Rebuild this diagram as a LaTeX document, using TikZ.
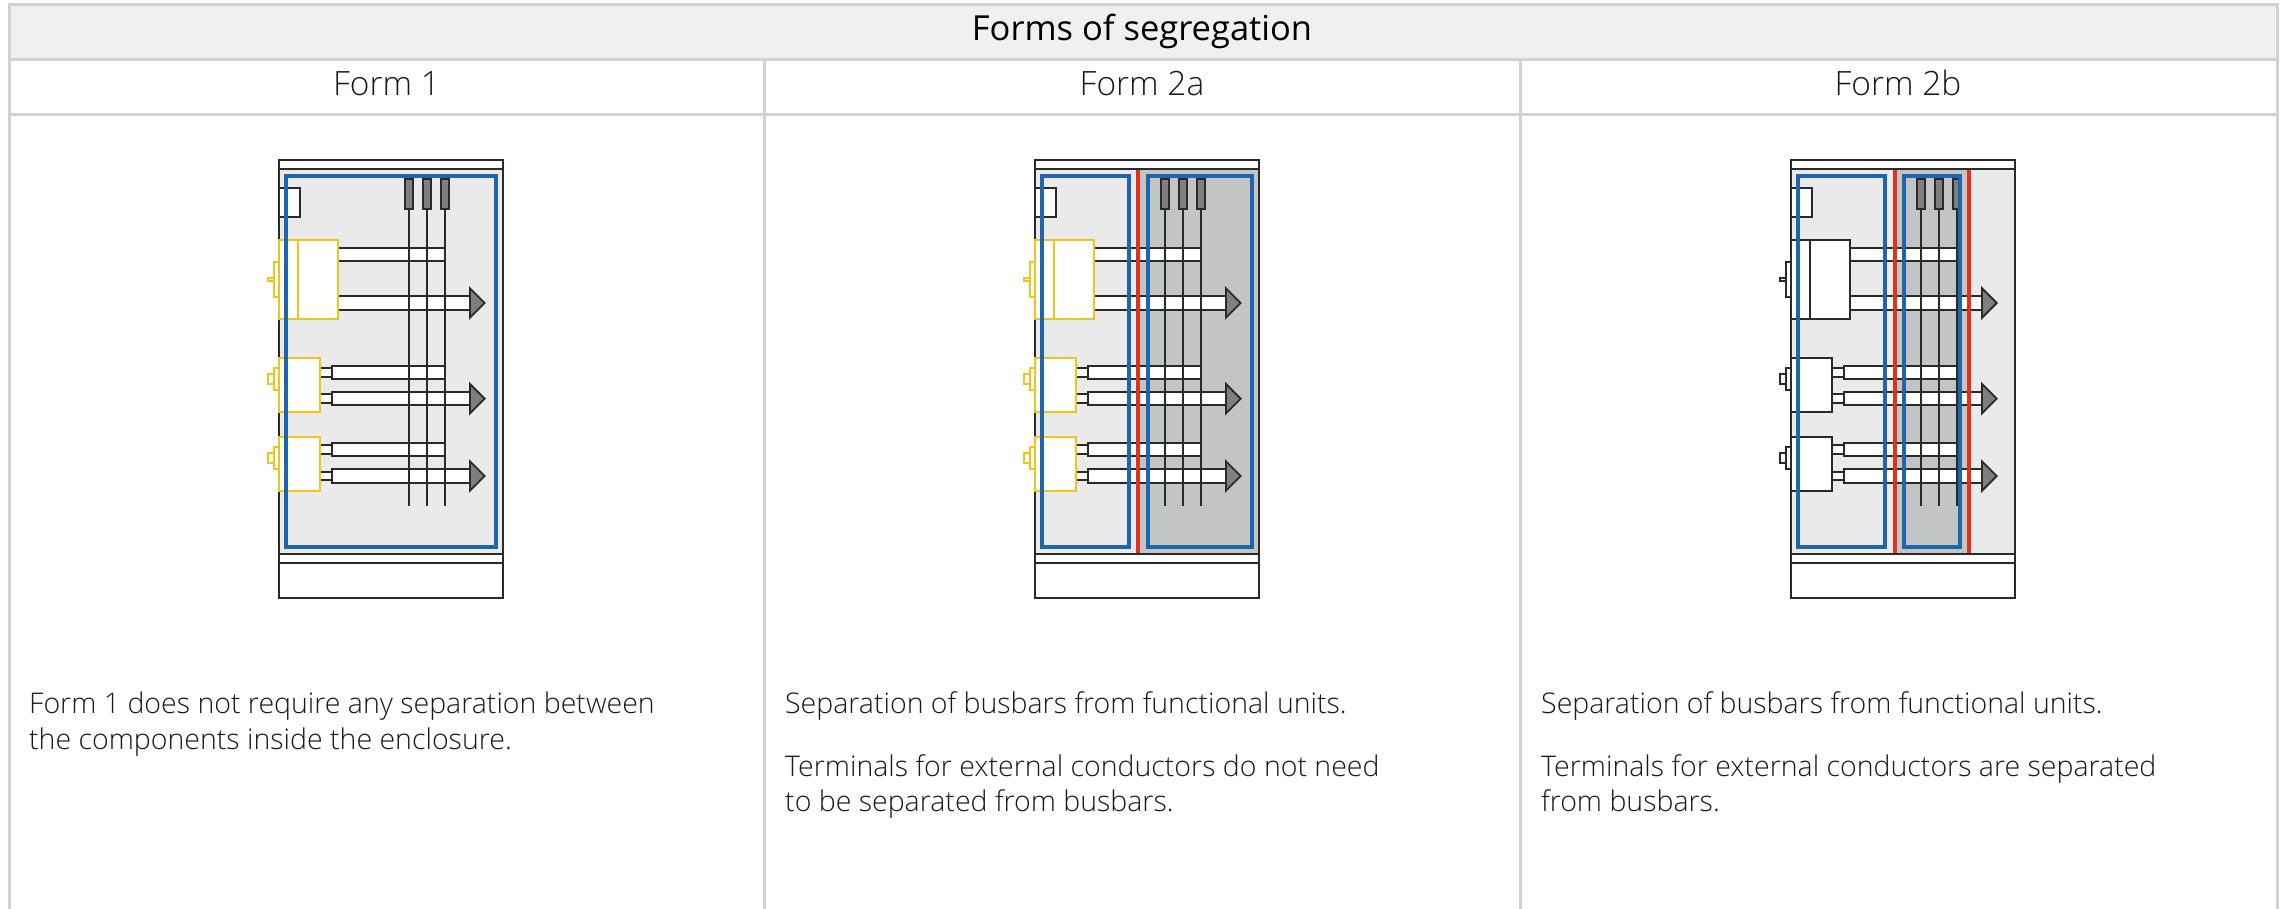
\documentclass[tikz,border=0pt]{standalone}
\usepackage{fontspec}
\setmainfont{Open Sans Light}
\newfontfamily\titlefont{Open Sans}
\definecolor{gridc}{HTML}{D2D2D2}
\definecolor{headc}{HTML}{F0F0F0}
\definecolor{cabc}{HTML}{EAEAEA}
\definecolor{darkc}{HTML}{C3C5C4}
\definecolor{tabc}{HTML}{7F7F7F}
\definecolor{linec}{HTML}{2A2A2A}
\definecolor{bluec}{HTML}{1F64AE}
\definecolor{redc}{HTML}{E03020}
\definecolor{yelc}{HTML}{F0C418}
\definecolor{textc}{HTML}{1A1A1A}
\tikzset{
 grid/.style={draw=gridc,line width=3pt},
 ln/.style={draw=linec,line width=1.8pt},
 wb/.style={ln,fill=white},
 blu/.style={draw=bluec,line width=4pt},
 rd/.style={draw=redc,line width=4pt},
 txt/.style={anchor=base west,inner sep=0,text=textc,font=\fontsize{28.5}{36}\selectfont},
 hd/.style={anchor=base,inner sep=0,text=textc,font=\fontsize{33.5}{40}\selectfont},
 ttl/.style={anchor=base,inner sep=0,text=black,font=\titlefont\fontsize{34.5}{40}\selectfont}
}
% top and bottom strips of the cabinet
\newcommand{\cabinet}[1]{%
\begin{scope}[xshift=#1pt]
 \draw[wb] (279.3,160) rectangle (503.3,169);
 \draw[wb] (279.3,554.3) rectangle (503.3,562.7);
 \draw[wb] (279.3,562.7) rectangle (503.3,597.7);
 \draw[draw=linec,line width=2.4pt] (279.3,169) -- (503.3,169);
 \draw[draw=linec,line width=2.4pt] (279.3,562.7) -- (503.3,562.7);
\end{scope}}
% #1 x offset #2 unit colour: everything under the segregation lines
\newcommand{\content}[2]{%
\begin{scope}[xshift=#1pt]
 \draw[ln] (279.3,169) -- (279.3,554.3);
 \draw[ln] (503.3,169) -- (503.3,554.3);
 \draw[wb] (279.3,188) rectangle (300.3,217.3);
 % bars
 \foreach \ya/\yb/\xs/\xe in {247.7/261/338/445,365.7/379/332.3/445,443/456.3/332.3/445}
   \draw[wb] (\xs,\ya) rectangle (\xe,\yb);
 \foreach \ya/\yb/\xs in {296/309.7/338,391.7/405/332.3,469.3/482.7/332.3}
   \draw[wb] (\xs,\ya) rectangle (470,\yb);
 % stubs
 \foreach \ya/\yb in {367.7/376.7,394/403,445.3/454.3,471.7/480.3}
   \draw[wb] (320.3,\ya) rectangle (332.3,\yb);
 % units
 \begin{scope}[every path/.style={draw=#2,line width=1.8pt,fill=white}]
 \path (279.3,240) rectangle (338,319);
 \path (298,240) -- (298,319);
 \path (273.7,262) rectangle (279.3,297);
 \path (268,278) rectangle (273.7,281);
 \path (279.3,358.3) rectangle (320.3,412);
 \path (273.7,367.7) rectangle (279.3,390);
 \path (268,373.7) rectangle (273.7,384);
 \path (279.3,437.3) rectangle (320.3,491);
 \path (273.7,446.7) rectangle (279.3,469.3);
 \path (268,453.3) rectangle (273.7,463.3);
 \end{scope}
 % arrows
 \foreach \y in {303,398.7,476}
   \draw[ln,fill=tabc,line join=miter] (470,\y-14.7) -- (484.7,\y) -- (470,\y+14.7) -- cycle;
 % busbars
 \foreach \x in {409,426.7,444.7} {
   \draw[ln] (\x,208.7) -- (\x,505.7);
   \draw[ln,fill=tabc] (\x-4,179.3) rectangle (\x+4,208.7);
 }
\end{scope}}
\begin{document}
\begin{tikzpicture}[x=1pt,y=-1pt]
\useasboundingbox (0,0) rectangle (2282,909);
\fill[white] (0,0) rectangle (2282,909);
% table
\fill[headc] (9,5) rectangle (2277,60);
\draw[grid] (9,909) -- (9,5) -- (2277,5) -- (2277,909);
\draw[grid] (9,60) -- (2277,60);
\draw[grid] (9,115) -- (2277,115);
\draw[grid] (764,60) -- (764,909);
\draw[grid] (1520,60) -- (1520,909);
\node[ttl] (title) at (1142,40.7) {Forms of segregation};
\node[hd] (f1) at (386.5,96) {Form 1};
\node[hd] (f2a) at (1142,96) {Form 2a};
\node[hd] (f2b) at (1898,96) {Form 2b};
% Form 1
\fill[cabc] (279.3,169) rectangle (503.3,554.3);
\content{0}{yelc}
\draw[blu] (286.3,176.3) rectangle (496.3,546.7);
\cabinet{0}
% Form 2a
\begin{scope}[xshift=756pt]
 \fill[cabc] (279.3,169) rectangle (382.3,554.3);
 \fill[darkc] (382.3,169) rectangle (503.3,554.3);
\end{scope}
\content{756}{yelc}
\begin{scope}[xshift=756pt]
 \draw[blu] (286.3,176.3) rectangle (373,546.7);
 \draw[blu] (392,176.3) rectangle (496.3,546.7);
 \draw[rd] (382.3,169) -- (382.3,554.3);
\end{scope}
\cabinet{756}
% Form 2b
\begin{scope}[xshift=1512pt]
 \fill[cabc] (279.3,169) rectangle (503.3,554.3);
 \fill[darkc] (382.7,169) rectangle (457,554.3);
\end{scope}
\content{1512}{linec}
\begin{scope}[xshift=1512pt]
 \draw[blu] (286.3,176.3) rectangle (373,546.7);
 \draw[blu] (392,176.3) rectangle (448.3,546.7);
 \draw[rd] (382.7,169) -- (382.7,554.3);
 \draw[rd] (457,169) -- (457,554.3);
\end{scope}
\cabinet{1512}
% texts
\node[txt] (t1a) at (29,713.5) {Form 1 does not require any separation between};
\node[txt] (t1b) at (29,749) {the components inside the enclosure.};
\node[txt] (t2a) at (785,713.5) {Separation of busbars from functional units.};
\node[txt] (t2b) at (785,776) {Terminals for external conductors do not need};
\node[txt] (t2c) at (785,811) {to be separated from busbars.};
\node[txt] (t3a) at (1541,713.5) {Separation of busbars from functional units.};
\node[txt] (t3b) at (1541,776) {Terminals for external conductors are separated};
\node[txt] (t3c) at (1541,811) {from busbars.};
\end{tikzpicture}
\end{document}
